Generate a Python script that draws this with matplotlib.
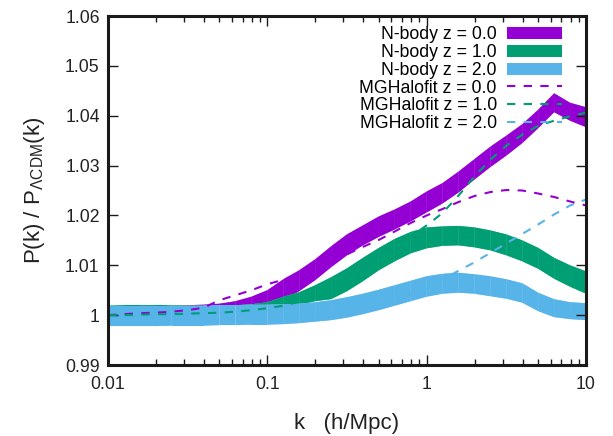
import numpy as np
import matplotlib
matplotlib.use('Agg')
import matplotlib.pyplot as plt
from matplotlib.colors import to_rgb
from matplotlib.ticker import FixedLocator, NullFormatter

plt.rcParams['font.family'] = ['Liberation Sans', 'DejaVu Sans']
plt.rcParams['mathtext.fontset'] = 'custom'
plt.rcParams['mathtext.rm'] = 'Liberation Sans'
plt.rcParams['mathtext.it'] = 'Liberation Sans:italic'

# log10(k) sampling of the curves
log_k = [-2.0, -1.9, -1.8, -1.7, -1.6, -1.5, -1.4, -1.3, -1.2, -1.1, -1.0,
         -0.9, -0.8, -0.7, -0.6, -0.5, -0.4, -0.3, -0.2, -0.1, 0.0,
         0.1, 0.2, 0.3, 0.4, 0.5, 0.6, 0.7, 0.8, 0.9, 1.0]

# N-body bands (lower / upper edge)
nbody_z0_lo = [0.9982, 0.9982, 0.9982, 0.9983, 0.9983, 0.9984, 0.9985, 0.9987, 0.9990, 0.9997, 1.0010,
               1.0030, 1.0048, 1.0070, 1.0096, 1.0120, 1.0140, 1.0157, 1.0172, 1.0188, 1.0206,
               1.0224, 1.0246, 1.0272, 1.0297, 1.0320, 1.0345, 1.0375, 1.0407, 1.0390, 1.0377]
nbody_z0_hi = [1.0018, 1.0018, 1.0018, 1.0019, 1.0019, 1.0020, 1.0021, 1.0023, 1.0028, 1.0037, 1.0050,
               1.0072, 1.0090, 1.0112, 1.0138, 1.0162, 1.0180, 1.0198, 1.0212, 1.0228, 1.0248,
               1.0265, 1.0288, 1.0313, 1.0338, 1.0360, 1.0383, 1.0412, 1.0445, 1.0426, 1.0417]

nbody_z1_lo = [0.9981, 0.9981, 0.9981, 0.9982, 0.9982, 0.9983, 0.9984, 0.9985, 0.9986, 0.9988, 0.9992,
               1.0008, 1.0020, 1.0028, 1.0032, 1.0048, 1.0068, 1.0090, 1.0108, 1.0124, 1.0134,
               1.0139, 1.0140, 1.0136, 1.0130, 1.0120, 1.0108, 1.0093, 1.0073, 1.0057, 1.0043]
nbody_z1_hi = [1.0019, 1.0020, 1.0020, 1.0020, 1.0020, 1.0019, 1.0019, 1.0019, 1.0020, 1.0022, 1.0026,
               1.0037, 1.0046, 1.0060, 1.0076, 1.0094, 1.0115, 1.0135, 1.0153, 1.0167, 1.0176,
               1.0178, 1.0179, 1.0176, 1.0170, 1.0162, 1.0150, 1.0135, 1.0115, 1.0100, 1.0088]

nbody_z2_lo = [0.9978, 0.9978, 0.9978, 0.9978, 0.9979, 0.9979, 0.9979, 0.9980, 0.9980, 0.9981, 0.9981,
               0.9982, 0.9984, 0.9987, 0.9990, 0.9995, 1.0002, 1.0010, 1.0019, 1.0028, 1.0037,
               1.0043, 1.0045, 1.0043, 1.0038, 1.0033, 1.0025, 1.0008, 0.9996, 0.9992, 0.9990]
nbody_z2_hi = [1.0018, 1.0018, 1.0018, 1.0018, 1.0019, 1.0019, 1.0019, 1.0020, 1.0020, 1.0021, 1.0021,
               1.0022, 1.0023, 1.0026, 1.0030, 1.0036, 1.0043, 1.0051, 1.0060, 1.0069, 1.0078,
               1.0083, 1.0085, 1.0082, 1.0078, 1.0072, 1.0064, 1.0045, 1.0032, 1.0026, 1.0024]

# MGHalofit predictions
halofit_z0 = [1.0000, 1.0002, 1.0004, 1.0005, 1.0007, 1.0010, 1.0015, 1.0030, 1.0040, 1.0050, 1.0062,
              1.0071, 1.0081, 1.0094, 1.0108, 1.0122, 1.0137, 1.0151, 1.0168, 1.0185, 1.0200,
              1.0213, 1.0227, 1.0239, 1.0247, 1.0251, 1.0250, 1.0244, 1.0237, 1.0228, 1.0220]
halofit_z1 = [1.0000, 1.0000, 1.0001, 1.0002, 1.0002, 1.0003, 1.0004, 1.0005, 1.0007, 1.0010, 1.0014,
              1.0019, 1.0027, 1.0040, 1.0055, 1.0072, 1.0090, 1.0110, 1.0135, 1.0158, 1.0180,
              1.0205, 1.0240, 1.0278, 1.0312, 1.0340, 1.0362, 1.0380, 1.0390, 1.0399, 1.0406]
halofit_z2 = [1.0000, 1.0000, 1.0000, 1.0001, 1.0001, 1.0001, 1.0001, 1.0002, 1.0002, 1.0002, 1.0002,
              1.0003, 1.0004, 1.0006, 1.0008, 1.0011, 1.0016, 1.0022, 1.0030, 1.0040, 1.0053,
              1.0072, 1.0089, 1.0106, 1.0125, 1.0144, 1.0163, 1.0182, 1.0202, 1.0220, 1.0232]

yticks = [0.99, 1.0, 1.01, 1.02, 1.03, 1.04, 1.05, 1.06]
ytick_labels = ['0.99', '1', '1.01', '1.02', '1.03', '1.04', '1.05', '1.06']
xticks = [0.01, 0.1, 1, 10]
xtick_labels = ['0.01', '0.1', '1', '10']

purple = '#9400D3'
green = '#009E73'
blue = '#56B4E9'
dark = '#1a1a1a'
fs = 12.7


def draw_band(ax, x, lo, hi, color, label):
    """ Fill a band; segments over a lighter base give faint seams. """
    light = tuple(0.6 * c + 0.4 for c in to_rgb(color))
    ax.fill_between(x, lo, hi, facecolor=light, lw=0)
    for i in range(len(x) - 1):
        ax.fill_between(x[i:i + 2], lo[i:i + 2], hi[i:i + 2], facecolor=color,
                        lw=0, label=label if i == 0 else None)


k = 10 ** np.array(log_k)

fig = plt.figure(figsize=(6.13, 4.36), dpi=100)
ax = fig.add_axes([0.1762, 0.1628, 0.7798, 0.8005])

draw_band(ax, k, nbody_z0_lo, nbody_z0_hi, purple, 'N-body z = 0.0')
draw_band(ax, k, nbody_z1_lo, nbody_z1_hi, green, 'N-body z = 1.0')
draw_band(ax, k, nbody_z2_lo, nbody_z2_hi, blue, 'N-body z = 2.0')

ax.plot(k, halofit_z0, color=purple, lw=1.5, dashes=(4, 4), zorder=2.2,
        label='MGHalofit z = 0.0')
ax.plot(k, halofit_z1, color=green, lw=1.5, dashes=(4, 4), zorder=2.2,
        label='MGHalofit z = 1.0')
ax.plot(k, halofit_z2, color=blue, lw=1.5, dashes=(4, 4), zorder=2.1,
        label='MGHalofit z = 2.0')

ax.set_xscale('log')
ax.set_xlim(0.01, 10)
ax.set_ylim(0.99, 1.06)
ax.xaxis.set_major_locator(FixedLocator(xticks))
ax.set_xticklabels(xtick_labels)
minor = [m * 10.0 ** e for e in (-2, -1, 0) for m in range(2, 10)]
ax.xaxis.set_minor_locator(FixedLocator(minor))
ax.xaxis.set_minor_formatter(NullFormatter())
ax.set_yticks(yticks)
ax.set_yticklabels(ytick_labels)

ax.tick_params(which='both', direction='in', top=True, right=True,
               color=dark, width=1, labelsize=fs, labelcolor='#222222')
ax.tick_params(which='major', length=7)
ax.tick_params(which='minor', length=4)
ax.tick_params(axis='x', pad=8)
ax.tick_params(axis='y', pad=6)
for spine in ax.spines.values():
    spine.set_linewidth(2.2)
    spine.set_color(dark)

ax.set_xlabel('k   (h/Mpc)', fontsize=16, labelpad=14, color='#222222')
ax.set_ylabel(r'P(k) / P$_{\Lambda\mathrm{CDM}}$(k)', fontsize=16,
              labelpad=13, color='#222222')

ax.legend(loc='upper right', bbox_to_anchor=(0.950, 0.970), frameon=False,
          markerfirst=False, fontsize=fs, handlelength=3.1, handletextpad=0.6,
          labelspacing=0.04, borderpad=0, borderaxespad=0)

fig.savefig('out.png', dpi=100)
